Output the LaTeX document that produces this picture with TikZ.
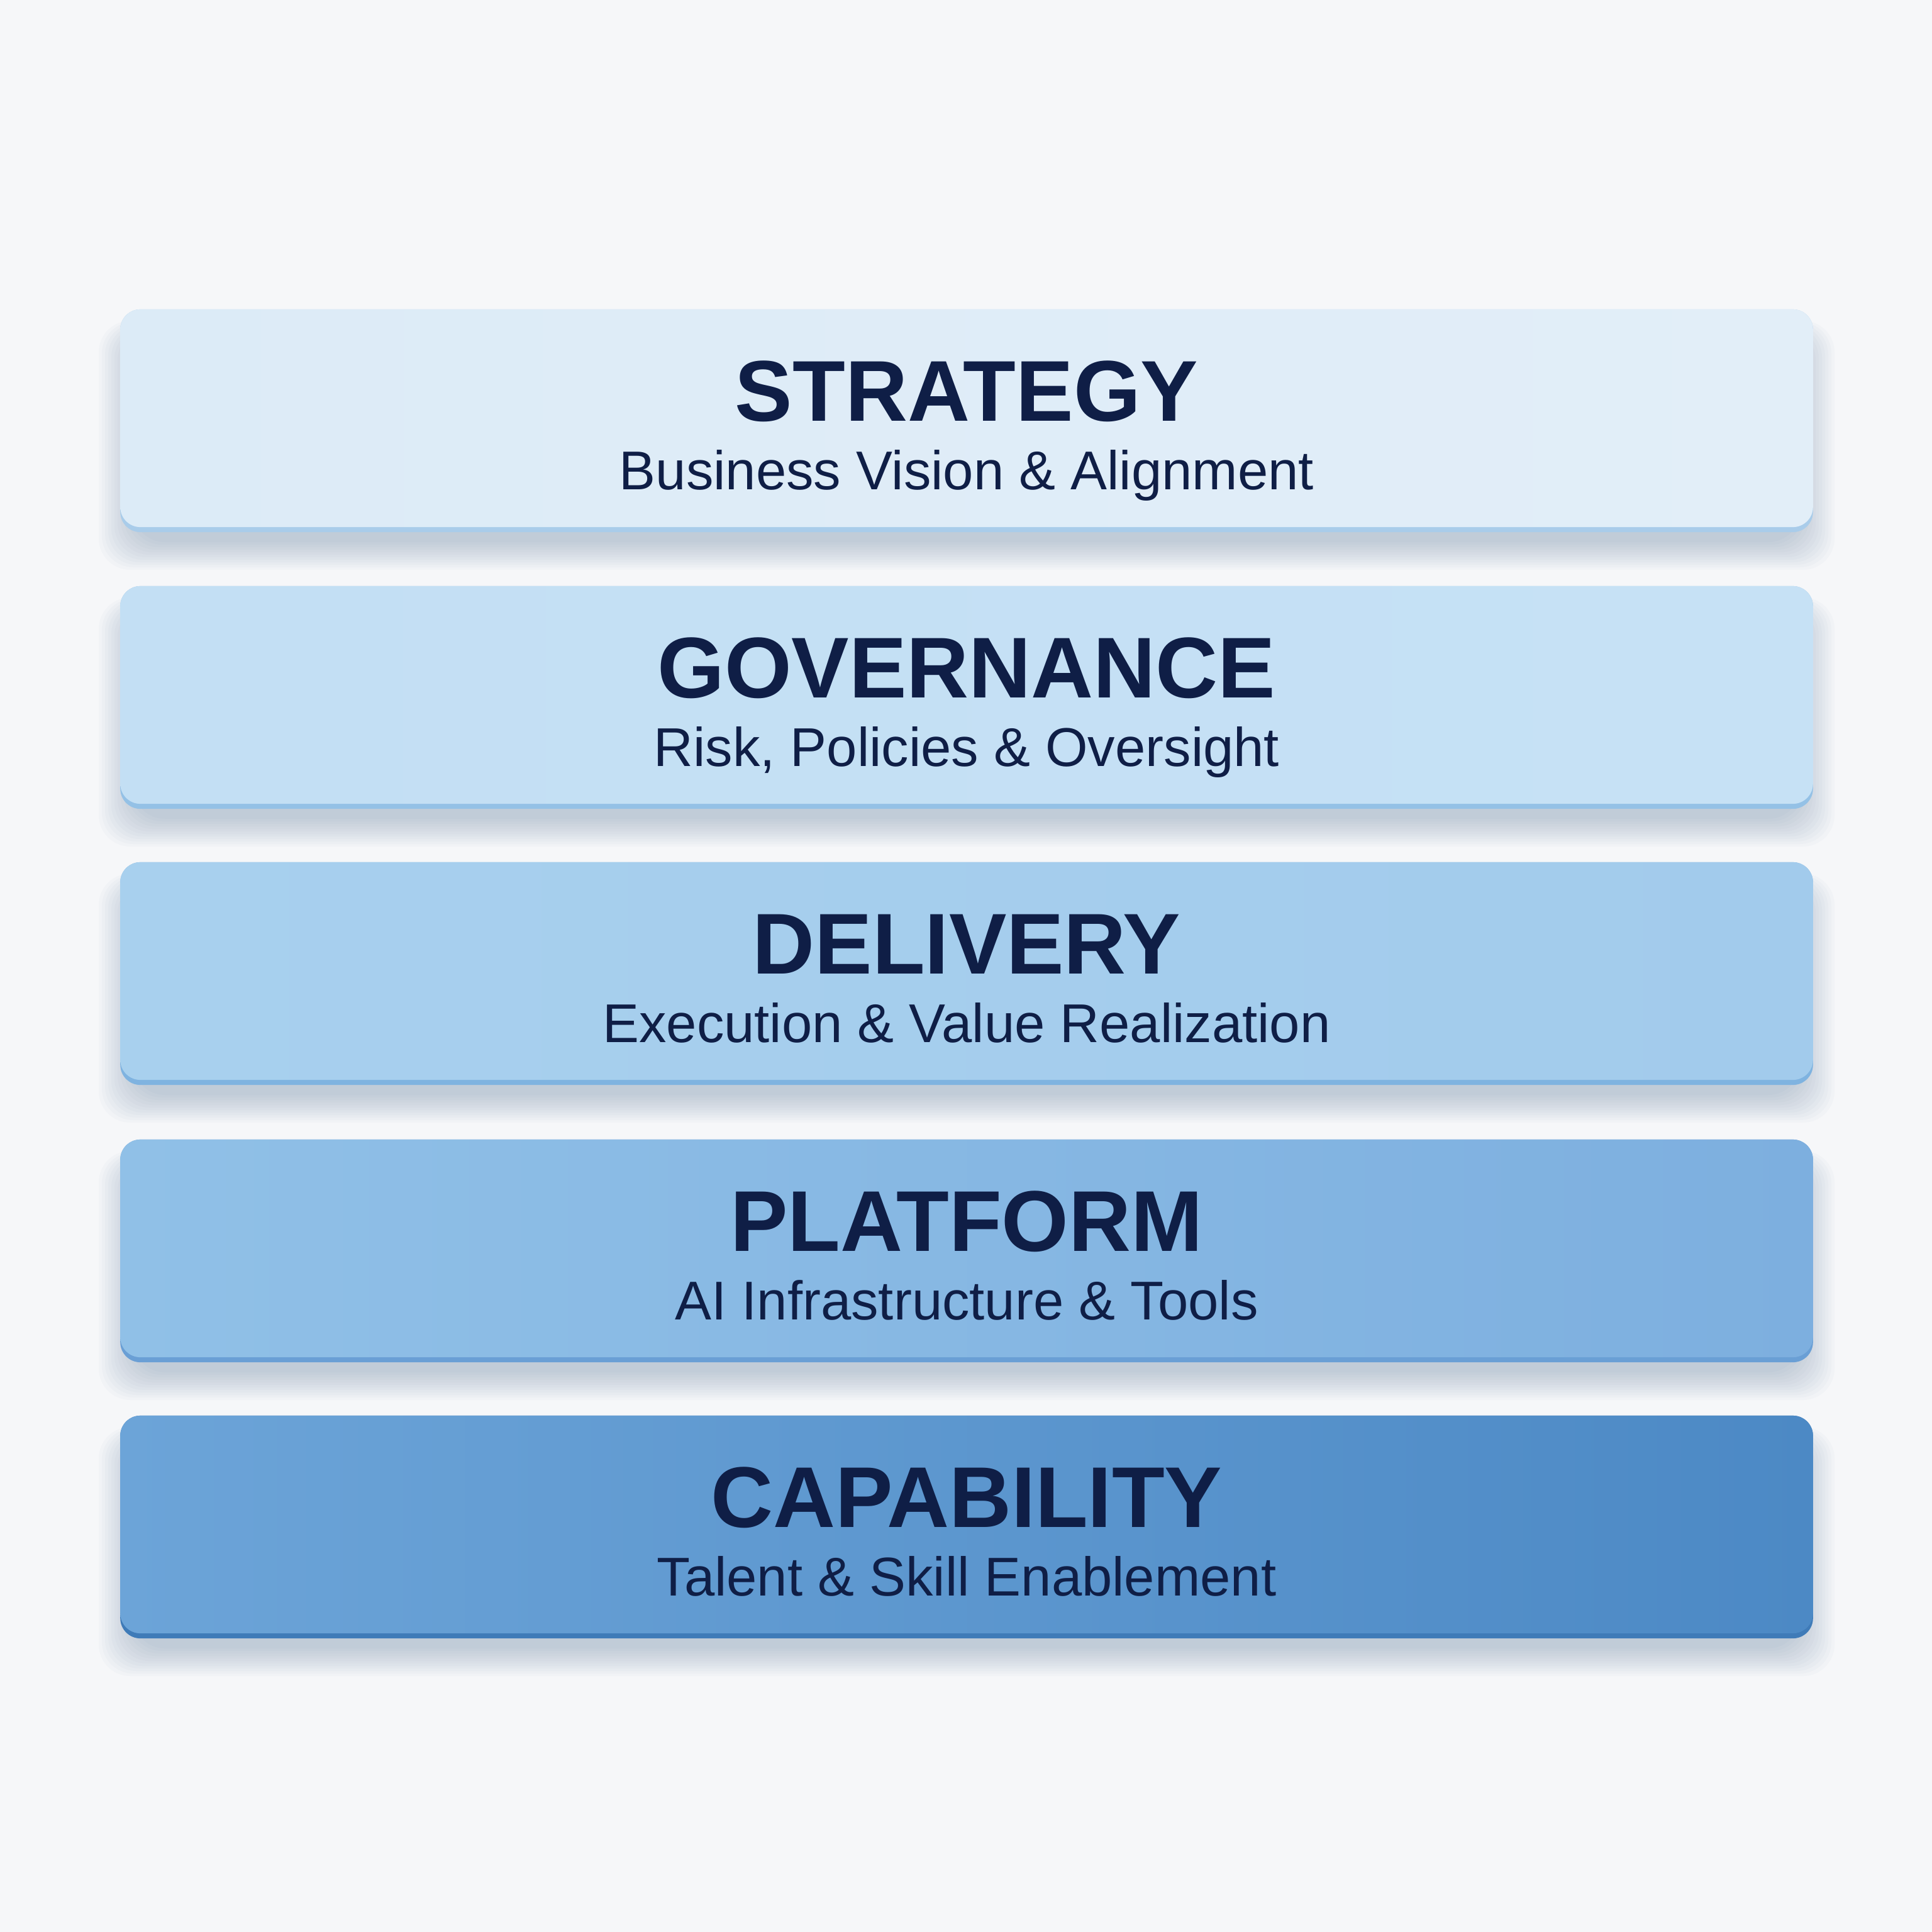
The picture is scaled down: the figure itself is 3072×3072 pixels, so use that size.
\documentclass[tikz,border=0pt]{standalone}
\usepackage{fontspec}
\setmainfont{Liberation Sans}
\definecolor{bgcol}{HTML}{F6F7F9}
\definecolor{navy}{HTML}{0F1E46}
\definecolor{shcol}{HTML}{4F6F98}
\definecolor{aL}{HTML}{DCEBF7}\definecolor{aR}{HTML}{E2EEF8}\definecolor{aB}{HTML}{A9CCEA}
\definecolor{bL}{HTML}{C3DFF4}\definecolor{bR}{HTML}{C6E1F5}\definecolor{bB}{HTML}{94C1E6}
\definecolor{cL}{HTML}{A8D0EE}\definecolor{cR}{HTML}{A2CBEC}\definecolor{cB}{HTML}{7FB3E0}
\definecolor{dL}{HTML}{90C0E7}\definecolor{dR}{HTML}{7DAFDF}\definecolor{dB}{HTML}{6A9FD5}
\definecolor{eL}{HTML}{6CA4D8}\definecolor{eR}{HTML}{4C89C5}\definecolor{eB}{HTML}{3F7BB8}
\tikzset{
  bevelbox/.style={rectangle, rounded corners=0.32cm, inner sep=0pt,
    minimum width=26.9cm, minimum height=3.54cm},
  facebox/.style={rectangle, rounded corners=0.32cm, inner sep=0pt,
    minimum width=26.9cm, minimum height=3.46cm},
  titletext/.style={font=\fontsize{39}{43}\selectfont\bfseries, text=navy, inner sep=0pt},
  subtext/.style={font=\fontsize{24.7}{28}\selectfont, text=navy, inner sep=0pt},
  shadowlayer/.style={fill=shcol, opacity=0.028, rounded corners=0.5cm}
}
\begin{document}
\begin{tikzpicture}[x=0.01cm,y=-0.01cm]
\fill[bgcol] (0,0) rectangle (3072,3072);
\useasboundingbox (0,0) rectangle (3072,3072);
% soft shadows
\foreach \T in {492,932,1371,1812,2251}{
  \foreach \k in {0,...,11}{
    \fill[shadowlayer] (212-\k*5,\T+40-\k*2) rectangle (2862+\k*5,\T+370+\k*4);
  }
}
\foreach \T/\nm/\ti/\su/\cc in {
  492/A/STRATEGY/Business Vision \& Alignment/a,
  932/B/GOVERNANCE/{Risk, Policies \& Oversight}/b,
  1371/C/DELIVERY/Execution \& Value Realization/c,
  1812/D/PLATFORM/AI Infrastructure \& Tools/d,
  2251/E/CAPABILITY/Talent \& Skill Enablement/e}{
  \node[bevelbox, fill=\cc B] (bevel\nm) at (1537,\T+177) {};
  \node[facebox, left color=\cc L, right color=\cc R] (face\nm) at (1537,\T+173) {};
  \node[titletext, anchor=base] (title\nm) at (1537,\T+177) {\ti};
  \node[subtext, anchor=base] (sub\nm) at (1537,\T+286) {\su};
}
\end{tikzpicture}
\end{document}
